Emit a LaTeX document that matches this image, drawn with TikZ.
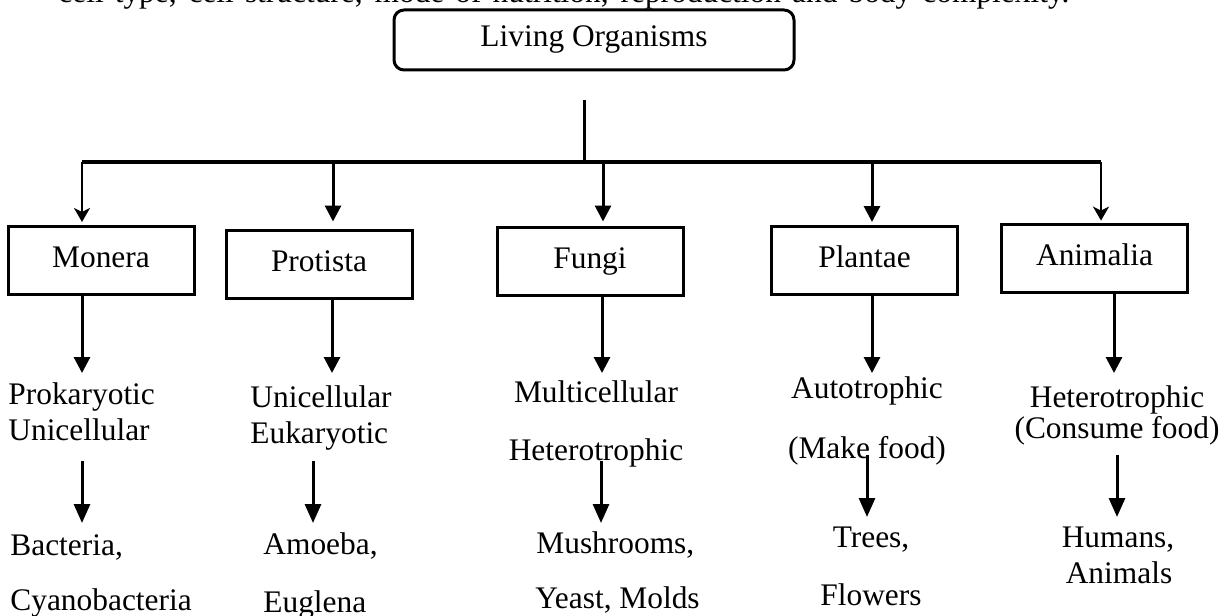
\documentclass[tikz,border=0pt]{standalone}
\usepackage{fontspec}
\setmainfont{Liberation Serif}
\usetikzlibrary{arrows.meta,calc,positioning,shapes}
\newcommand{\kfont}{\fontsize{15.7}{18}\selectfont}
\tikzstyle{kbox} = [rectangle, draw=black, line width=1.5pt, minimum width=93pt, minimum height=34pt, inner sep=0pt, text height=0.8em, text depth=0.1em]
\tikzstyle{topbox} = [kbox, rounded corners=5pt, minimum width=200pt, minimum height=30pt]
\tikzstyle{arrow} = [line width=1.5pt, -{Triangle[width=8pt,length=8pt]}]
\tikzstyle{longarrow} = [line width=1.5pt, -{Triangle[width=8pt,length=9.5pt]}]
\tikzstyle{thinarrow} = [line width=1.3pt, -{Stealth[width=8pt,length=7pt,inset=2pt]}]
\tikzstyle{lbl} = [inner sep=0pt, anchor=base]
\tikzstyle{lblw} = [inner sep=0pt, anchor=base west]

\begin{document}
\begin{tikzpicture}[x=0.5pt,y=-0.5pt,font=\kfont]
\clip (0,0) rectangle (1224,615);
\fill[white] (0,0) rectangle (1224,615);
% last line of the text above, cut by the page
\node (cut) at (58,3) [lblw] {\makebox[505.5pt][s]{cell type, cell structure, mode of nutrition, reproduction and body complexity.}};
\node (living) at (594,40) [topbox] {Living Organisms};
% the five kingdoms
\node (monera) at (101,260.5) [kbox] {Monera};
\node (protista) at (319,264) [kbox] {Protista};
\node (fungi) at (590,261) [kbox] {Fungi};
\node (plantae) at (864.5,260.5) [kbox] {Plantae};
\node (animalia) at (1094.5,258.5) [kbox] {Animalia};
% stem and bar
\coordinate (stem) at (584,100);
\coordinate (barl) at (82,162);
\coordinate (barr) at (1101,162);
\draw[line width=1.5pt] (stem) -- (stem |- barl);
\draw[line width=1.6pt] (barl) -- (barr);
\coordinate (in2) at (333,162);
\coordinate (in3) at (603,162);
\coordinate (in4) at (872,162);
\draw[thinarrow, shorten >=1.5pt] (barl) -- (barl |- monera.north);
\draw[arrow, shorten >=3.5pt] (in2) -- (in2 |- protista.north);
\draw[arrow, shorten >=2pt] (in3) -- (in3 |- fungi.north);
\draw[arrow, shorten >=1.5pt] (in4) -- (in4 |- plantae.north);
\draw[thinarrow, shorten >=1.2pt] (barr) -- (barr |- animalia.north);
% boxes down to the first texts
\coordinate (d1) at (82,373);
\coordinate (d2) at (332,373);
\coordinate (d3) at (602,373);
\coordinate (d4) at (872,373);
\coordinate (d5) at (1114,373);
\draw[arrow] (d1 |- monera.south) -- (d1);
\draw[arrow] (d2 |- protista.south) -- (d2);
\draw[arrow] (d3 |- fungi.south) -- (d3);
\draw[arrow] (d4 |- plantae.south) -- (d4);
\draw[arrow] (d5 |- animalia.south) -- (d5);
\node (prok) at (8,404) [lblw] {Prokaryotic};
\node (uni1) at (8,440) [lblw] {Unicellular};
\node (uni2) at (250,407) [lblw] {Unicellular};
\node (euk) at (250,443) [lblw] {Eukaryotic};
\node (multi) at (596,402) [lbl] {Multicellular};
\node (het1) at (596,460) [lbl] {Heterotrophic};
\node (auto) at (867,398) [lbl] {Autotrophic};
\node (make) at (867,458) [lbl] {(Make food)};
\node (het2) at (1117,407) [lbl] {Heterotrophic};
\node (cons) at (1117,438) [lbl] {(Consume food)};
% down to the examples
\coordinate (e1) at (82,461);
\coordinate (f1) at (82,523);
\coordinate (e2) at (313,461);
\coordinate (f2) at (313,523);
\coordinate (e3) at (601,461);
\coordinate (f3) at (601,523);
\coordinate (e4) at (867,455);
\coordinate (f4) at (867,517);
\coordinate (e5) at (1117,455);
\coordinate (f5) at (1117,517);
\draw[longarrow] (e1) -- (f1);
\draw[longarrow] (e2) -- (f2);
\draw[longarrow] (e3) -- (f3);
\draw[longarrow] (e4) -- (f4);
\draw[longarrow] (e5) -- (f5);
\node (bact) at (10,555) [lblw] {Bacteria,};
\node (cyano) at (10,610) [lblw] {Cyanobacteria};
\node (amoeba) at (263,554) [lblw] {Amoeba,};
\node (eugl) at (263,612) [lblw] {Euglena};
\node (mush) at (536,553) [lblw] {Mushrooms,};
\node (yeast) at (535,608) [lblw] {Yeast, Molds};
\node (trees) at (871,547) [lbl] {Trees,};
\node (flow) at (871,605) [lbl] {Flowers};
\node (hum) at (1118,547) [lbl] {Humans,};
\node (anim) at (1119,583) [lbl] {Animals};
\end{tikzpicture}
\end{document}
